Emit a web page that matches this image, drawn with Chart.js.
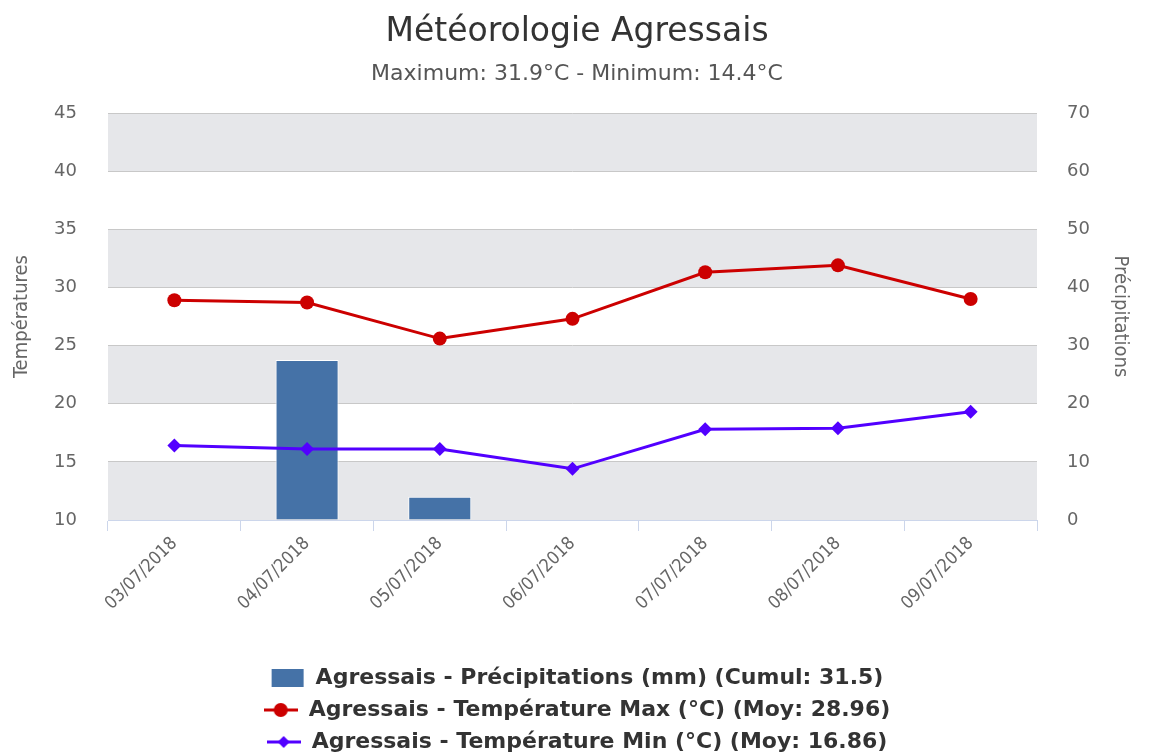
<!DOCTYPE html>
<html>
<head>
<meta charset="utf-8">
<script src="https://cdn.jsdelivr.net/npm/chart.js@4"></script>
<style>
  html, body { margin: 0; padding: 0; background: #fff; overflow: hidden; }
  #wrap { width: 1154px; height: 753px; }
</style>
</head>
<body>
<div id="wrap"><canvas id="meteoChart" width="1154" height="753"></canvas></div>
<script>
const dates = ["03/07/2018", "04/07/2018", "05/07/2018", "06/07/2018", "07/07/2018", "08/07/2018", "09/07/2018"];
const precipitations = [0, 27.5, 4.0, 0, 0, 0, 0];
const tempMax = [28.9, 28.7, 25.6, 27.3, 31.3, 31.9, 29.0];
const tempMin = [16.4, 16.1, 16.1, 14.4, 17.8, 17.9, 19.3];

const BLUE = "#4572a7";
const RED = "#cc0000";
const PURPLE = "#5200ff";

// small legend symbols (line + marker, or box)
function legendSymbol(kind, color) {
  const c = document.createElement("canvas");
  c.width = 34;
  c.height = 18;
  const ctx = c.getContext("2d");
  ctx.fillStyle = color;
  ctx.strokeStyle = color;
  if (kind === "box") {
    ctx.fillRect(1, 0, 32, 18);
    return c;
  }
  ctx.lineWidth = 3;
  ctx.beginPath();
  ctx.moveTo(0, 9);
  ctx.lineTo(34, 9);
  ctx.stroke();
  ctx.beginPath();
  if (kind === "circle") {
    ctx.arc(17, 9, 7, 0, Math.PI * 2);
  } else {
    ctx.moveTo(17, 3);
    ctx.lineTo(23, 9);
    ctx.lineTo(17, 15);
    ctx.lineTo(11, 9);
    ctx.closePath();
  }
  ctx.fill();
  return c;
}

const symbols = [
  legendSymbol("box", BLUE),
  legendSymbol("circle", RED),
  legendSymbol("diamond", PURPLE),
];

// alternating grey bands on the temperature axis
const bandsPlugin = {
  id: "bands",
  beforeDraw(chart) {
    const { ctx, chartArea } = chart;
    const y = chart.scales.y;
    const ticks = y.ticks;
    ctx.save();
    ctx.fillStyle = "#e6e7ea";
    for (let i = 0; i < ticks.length - 1; i += 2) {
      const y0 = y.getPixelForValue(ticks[i].value);
      const y1 = y.getPixelForValue(ticks[i + 1].value);
      ctx.fillRect(chartArea.left, y1, chartArea.right - chartArea.left, y0 - y1);
    }
    ctx.restore();
  },
};

const sansFont = "'DejaVu Sans', sans-serif";
const narrowFont = "'DejaVu Sans Condensed', 'DejaVu Sans', sans-serif";
const tickFont = { family: sansFont, size: 18 };

const chart = new Chart(document.getElementById("meteoChart").getContext("2d"), {
  type: "bar",
  data: {
    labels: dates,
    datasets: [
      {
        type: "line",
        label: "Agressais - Température Max (°C) (Moy: 28.96)",
        data: tempMax,
        yAxisID: "y",
        borderColor: RED,
        backgroundColor: RED,
        borderWidth: 3,
        pointRadius: 7,
        pointStyle: "circle",
        pointBorderWidth: 0,
        tension: 0,
        order: 1,
      },
      {
        type: "line",
        label: "Agressais - Température Min (°C) (Moy: 16.86)",
        data: tempMin,
        yAxisID: "y",
        borderColor: PURPLE,
        backgroundColor: PURPLE,
        borderWidth: 3,
        pointRadius: 7,
        pointStyle: "rectRot",
        pointBorderWidth: 0,
        tension: 0,
        order: 2,
      },
      {
        type: "bar",
        label: "Agressais - Précipitations (mm) (Cumul: 31.5)",
        data: precipitations,
        yAxisID: "y1",
        backgroundColor: BLUE,
        borderColor: "#ffffff",
        borderWidth: 1,
        barPercentage: 0.95,
        categoryPercentage: 0.5,
        order: 3,
      },
    ],
  },
  options: {
    responsive: false,
    animation: false,
    layout: {
      padding: { top: 0, left: 0, right: 0, bottom: -10 },
    },
    plugins: {
      title: {
        display: true,
        text: "Météorologie Agressais",
        color: "#333333",
        font: { family: sansFont, size: 33, weight: "normal" },
        padding: { top: 13, bottom: 8 },
      },
      subtitle: {
        display: true,
        text: "Maximum: 31.9°C - Minimum: 14.4°C",
        color: "#555555",
        font: { family: sansFont, size: 22, weight: "normal" },
        padding: { top: 0, bottom: 26 },
      },
      legend: {
        display: true,
        position: "bottom",
        labels: {
          usePointStyle: true,
          pointStyleWidth: 34,
          padding: 10,
          color: "#333333",
          font: { family: sansFont, size: 22, weight: "bold" },
          generateLabels(chart) {
            const order = [2, 0, 1];
            return order.map((idx, i) => ({
              text: chart.data.datasets[idx].label,
              pointStyle: symbols[i],
              fillStyle: "transparent",
              strokeStyle: "transparent",
              lineWidth: 0,
              fontColor: "#333333",
              datasetIndex: idx,
              hidden: false,
            }));
          },
        },
      },
      tooltip: { enabled: false },
    },
    scales: {
      x: {
        offset: true,
        grid: {
          offset: true,
          drawOnChartArea: false,
          drawTicks: true,
          tickLength: 11,
          color: "#ccd6eb",
        },
        border: { display: true, color: "#ccd6eb" },
        ticks: {
          color: "#666666",
          font: { family: narrowFont, size: 18 },
          minRotation: 45,
          maxRotation: 45,
          padding: 2,
        },
        afterFit(scale) {
          scale.height = 137;
        },
      },
      y: {
        position: "left",
        min: 10,
        max: 45,
        ticks: {
          stepSize: 5,
          color: "#666666",
          font: tickFont,
          padding: 31,
        },
        grid: { color: "#c8c8c8", drawTicks: false },
        border: { display: false },
        title: {
          display: true,
          text: "Températures",
          color: "#666666",
          font: { family: narrowFont, size: 20 },
          padding: { top: 10, bottom: 0 },
        },
        afterFit(scale) {
          scale.width = 108;
        },
      },
      y1: {
        position: "right",
        min: 0,
        max: 70,
        ticks: {
          stepSize: 10,
          color: "#666666",
          font: tickFont,
          padding: 30,
        },
        grid: { drawOnChartArea: false, drawTicks: false },
        border: { display: false },
        title: {
          display: true,
          text: "Précipitations",
          color: "#666666",
          font: { family: narrowFont, size: 20 },
          padding: { top: 22, bottom: 0 },
        },
        afterFit(scale) {
          scale.width = 117;
        },
      },
    },
  },
  plugins: [bandsPlugin],
});
</script>
</body>
</html>
